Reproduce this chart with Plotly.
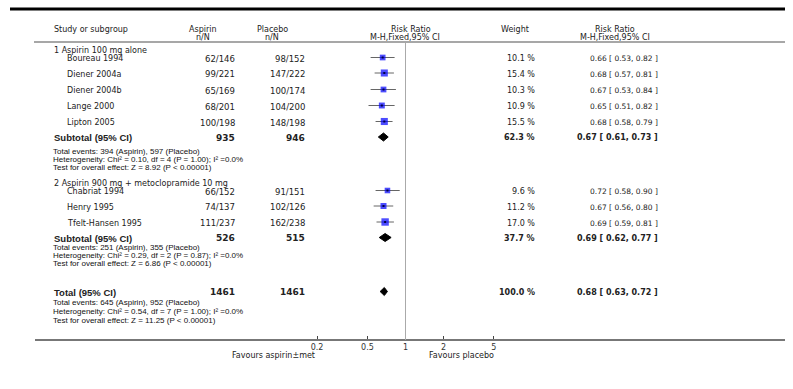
import math
import plotly.graph_objects as go

# ---------------- data ----------------
group1_label = "1 Aspirin 100 mg alone"
group1_names = ["Boureau 1994", "Diener 2004a", "Diener 2004b", "Lange 2000", "Lipton 2005"]
group1_asp_events = [62, 99, 65, 68, 100]
group1_asp_total = [146, 221, 169, 201, 198]
group1_plc_events = [98, 147, 100, 104, 148]
group1_plc_total = [152, 222, 174, 200, 198]
group1_weight = [10.1, 15.4, 10.3, 10.9, 15.5]
group1_rr = [0.66, 0.68, 0.67, 0.65, 0.68]
group1_lo = [0.53, 0.57, 0.53, 0.51, 0.58]
group1_hi = [0.82, 0.81, 0.84, 0.82, 0.79]
group1_sub = {"asp": 935, "plc": 946, "w": 62.3, "rr": 0.67, "lo": 0.61, "hi": 0.73}
group1_notes = ["Total events: 394 (Aspirin), 597 (Placebo)",
                "Heterogeneity: Chi² = 0.10, df = 4 (P = 1.00); I² =0.0%",
                "Test for overall effect: Z = 8.92 (P < 0.00001)"]

group2_label = "2 Aspirin 900 mg + metoclopramide 10 mg"
group2_names = ["Chabriat 1994", "Henry 1995", "Tfelt-Hansen 1995"]
group2_asp_events = [66, 74, 111]
group2_asp_total = [152, 137, 237]
group2_plc_events = [91, 102, 162]
group2_plc_total = [151, 126, 238]
group2_weight = [9.6, 11.2, 17.0]
group2_rr = [0.72, 0.67, 0.69]
group2_lo = [0.58, 0.56, 0.59]
group2_hi = [0.90, 0.80, 0.81]
group2_sub = {"asp": 526, "plc": 515, "w": 37.7, "rr": 0.69, "lo": 0.62, "hi": 0.77}
group2_notes = ["Total events: 251 (Aspirin), 355 (Placebo)",
                "Heterogeneity: Chi² = 0.29, df = 2 (P = 0.87); I² =0.0%",
                "Test for overall effect: Z = 6.86 (P < 0.00001)"]

total = {"asp": 1461, "plc": 1461, "w": 100.0, "rr": 0.68, "lo": 0.63, "hi": 0.72}
total_notes = ["Total events: 645 (Aspirin), 952 (Placebo)",
               "Heterogeneity: Chi² = 0.54, df = 7 (P = 1.00); I² =0.0%",
               "Test for overall effect: Z = 11.25 (P < 0.00001)"]

tick_vals = [0.2, 0.5, 1, 2, 5]
tick_text = ["0.2", "0.5", "1", "2", "5"]

# ---------------- layout (pixel positions) ----------------
W, H = 793, 389
ONE_PX = 405.5          # pixel x of RR = 1
PX_DEC = 126.5          # pixels per decade
AX_L, AX_R = 35, 785
AX_Y = 340

g1_rows = [58.5, 74, 90.5, 106.5, 122.5]
g1_head = 50
g1_sub_y = 137.5
g1_note_mid, g1_note_gap = 159.8, 7.8
g2_head = 183
g2_rows = [191.5, 207, 223]
g2_sub_y = 238
g2_note_mid, g2_note_gap = 255.8, 7.8
tot_y = 292
tot_note_mid, tot_note_gap = 311, 8.8

X_NAME_GRP = 52
X_NAME = 65
X_ASP = 237
X_PLC = 307
X_W = 537
X_RR = 660

REG = "DejaVu Sans"
NOTE = "Liberation Sans"
TXT = "#222222"

fig = go.Figure()
ann = []


def px(x):
    return x / W


def text(x, y, s, anchor="left", size=8, family=REG, bold=False, color=TXT):
    ann.append(dict(x=px(x), y=y, xref="paper", yref="y", text=s, showarrow=False,
                    xanchor=anchor, yanchor="middle",
                    font=dict(family=family, size=size, color=color,
                              weight="bold" if bold else "normal")))


def note_block(lines, mid, gap):
    # one text element; line pitch follows the outer font size (1.3 em)
    body = "<br>".join(f"<span style='font-size:8px'>{s}</span>" for s in lines)
    ann.append(dict(x=px(X_NAME_GRP), y=mid, xref="paper", yref="y", text=body,
                    showarrow=False, xanchor="left", yanchor="middle", align="left",
                    borderpad=0,
                    font=dict(family=NOTE, size=gap / 1.3, color="#111111")))


def fmt_ci(r, l, h):
    return f"{r:.2f} [ {l:.2f}, {h:.2f} ]"


# headers
text(52, 29, "Study or subgroup")
text(203, 29, "Aspirin", "center")
text(203, 37, "n/N", "center")
text(272, 29, "Placebo", "center")
text(272, 37, "n/N", "center")
text(411, 29, "Risk Ratio", "center")
text(405, 37, "M-H,Fixed,95% CI", "center")
text(515, 29, "Weight", "center")
text(615, 29, "Risk Ratio", "center")
text(615, 37, "M-H,Fixed,95% CI", "center")

ci_x, ci_y = [], []
sq_x, sq_y, sq_s = [], [], []


def study_block(label, head_y, names, ae, at, pe, pt, w, rr, lo, hi, rows):
    text(X_NAME_GRP, head_y, label)
    for i, n in enumerate(names):
        y = rows[i]
        text(X_NAME, y, n)
        text(X_ASP, y, f"{ae[i]}/{at[i]}", "right", size=8.5)
        text(X_PLC, y, f"{pe[i]}/{pt[i]}", "right", size=8.5)
        text(X_W, y, f"{w[i]:.1f} %", "right")
        text(X_RR, y, fmt_ci(rr[i], lo[i], hi[i]), "right", size=7.5)
        ci_x.extend([lo[i], hi[i], None])
        ci_y.extend([y - 1, y - 1, None])
        sq_x.append(rr[i])
        sq_y.append(y - 1)
        sq_s.append(1.8 * math.sqrt(w[i]))


def summary(label, y, d, notes, note_mid, note_gap):
    text(X_NAME_GRP, y, label, size=9.5, family=NOTE, bold=True)
    text(X_ASP, y, str(d["asp"]), "right", size=9, bold=True)
    text(X_PLC, y, str(d["plc"]), "right", size=9, bold=True)
    text(X_W, y, f"{d['w']:.1f} %", "right", size=8, bold=True)
    text(X_RR, y, fmt_ci(d["rr"], d["lo"], d["hi"]), "right", size=8, bold=True)
    note_block(notes, note_mid, note_gap)
    yc = y - 0.5
    fig.add_trace(go.Scatter(x=[d["lo"], d["rr"], d["hi"], d["rr"], d["lo"]],
                             y=[yc, yc - 4, yc, yc + 4, yc],
                             mode="lines", fill="toself", fillcolor="black",
                             line=dict(color="black", width=1), hoverinfo="skip"))


study_block(group1_label, g1_head, group1_names, group1_asp_events, group1_asp_total,
            group1_plc_events, group1_plc_total, group1_weight, group1_rr, group1_lo,
            group1_hi, g1_rows)
summary("Subtotal (95% CI)", g1_sub_y, group1_sub, group1_notes, g1_note_mid, g1_note_gap)
study_block(group2_label, g2_head, group2_names, group2_asp_events, group2_asp_total,
            group2_plc_events, group2_plc_total, group2_weight, group2_rr, group2_lo,
            group2_hi, g2_rows)
summary("Subtotal (95% CI)", g2_sub_y, group2_sub, group2_notes, g2_note_mid, g2_note_gap)
summary("Total (95% CI)", tot_y, total, total_notes, tot_note_mid, tot_note_gap)

fig.add_trace(go.Scatter(x=ci_x, y=ci_y, mode="lines",
                         line=dict(color="#666666", width=1), hoverinfo="skip"))
fig.add_trace(go.Scatter(x=sq_x, y=sq_y, mode="markers",
                         marker=dict(symbol="square", color="#0000ff", size=sq_s,
                                     line=dict(width=0)), hoverinfo="skip"))
fig.add_trace(go.Scatter(x=sq_x, y=sq_y, mode="markers",
                         marker=dict(symbol="square", color="#000044", size=2,
                                     line=dict(width=0)), hoverinfo="skip"))

# axis labels
text(317, 355, "Favours aspirin±met", "right")
text(427, 355, "Favours placebo", "left")

shapes = [
    dict(type="line", xref="paper", yref="y", x0=px(10), x1=px(785), y0=9, y1=9,
         line=dict(color="black", width=3)),
    dict(type="line", xref="paper", yref="y", x0=px(34), x1=px(785), y0=42, y1=42,
         line=dict(color="#8a8a8a", width=1.5)),
    dict(type="line", xref="x", yref="y", x0=1, x1=1, y0=43, y1=AX_Y,
         line=dict(color="#aaaaaa", width=1)),
]

rng = [(AX_L - ONE_PX) / PX_DEC, (AX_R - ONE_PX) / PX_DEC]

fig.update_layout(
    width=W, height=H, autosize=False,
    margin=dict(l=0, r=0, t=0, b=0, pad=0),
    paper_bgcolor="white", plot_bgcolor="white",
    showlegend=False,
    annotations=ann, shapes=shapes,
    xaxis=dict(type="log", range=rng, domain=[AX_L / W, AX_R / W],
               anchor="free", position=(H - AX_Y) / H,
               showline=True, linecolor="#777777", linewidth=1.5,
               showgrid=False, zeroline=False,
               tickvals=tick_vals, ticktext=tick_text, ticks="inside",
               ticklen=3, tickcolor="#444444",
               tickfont=dict(family=REG, size=8, color="#333333"),
               fixedrange=True),
    yaxis=dict(range=[H, 0], domain=[0, 1], visible=False, showgrid=False,
               zeroline=False, fixedrange=True),
)

fig.write_html("out.html", config={"displayModeBar": False},
               post_script="document.body.style.margin='0';")
